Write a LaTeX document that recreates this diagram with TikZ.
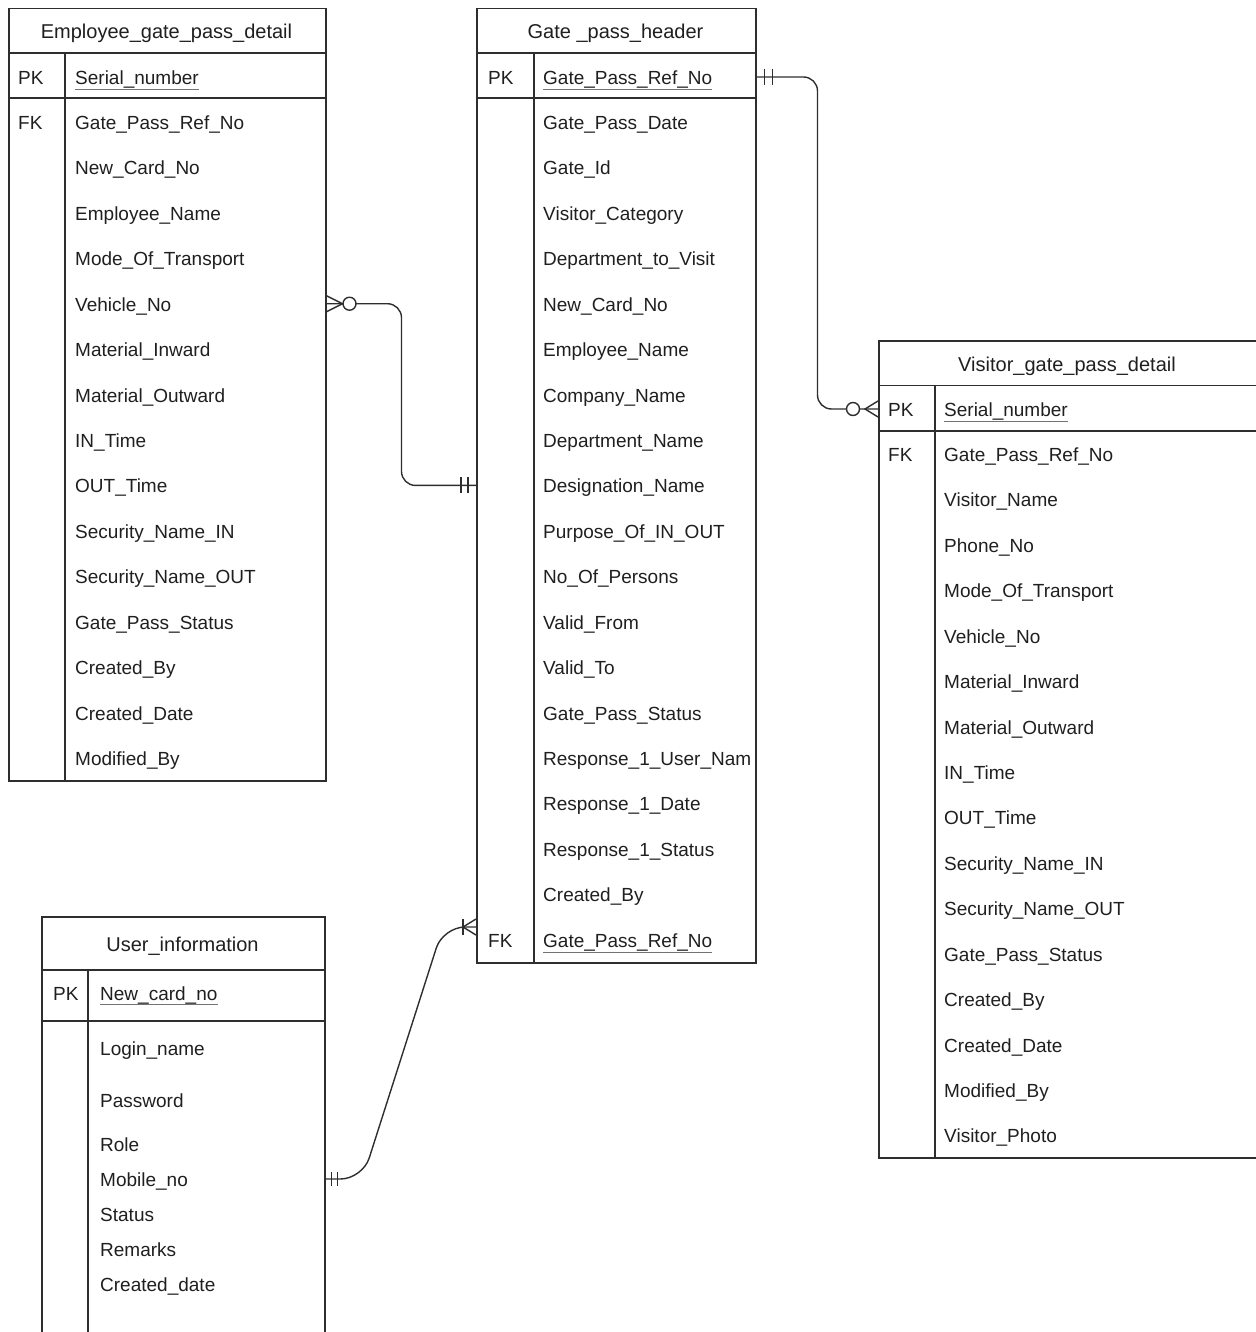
\documentclass[tikz,border=0pt]{standalone}
\usepackage{fontspec}
\setmainfont{Liberation Sans}
\begin{document}
\begin{tikzpicture}[x=1pt,y=-1pt,
  tbl/.style={draw=black!82, line width=1.5pt, inner sep=0pt, anchor=north west},
  ln/.style={draw=black!82, line width=1.5pt},
  txt/.style={inner sep=0pt, anchor=west, text height=15pt, text depth=0pt,
    font=\fontsize{19}{22}\selectfont, text=black!88},
  ttl/.style={inner sep=0pt, anchor=center, text height=15pt, text depth=0pt,
    font=\fontsize{20}{22}\selectfont, text=black!88},
  ul/.style={draw=black!55, line width=0.9pt},
  rel/.style={draw=black!82, line width=1.4pt, rounded corners=14pt},
  tick/.style={draw=black!82, line width=1.4pt},
  circ/.style={draw=black!82, line width=1.4pt, fill=white}]
\useasboundingbox (0,0) rectangle (1255,1332);

% ---------------- Employee_gate_pass_detail ----------------
\node[tbl, minimum width=317pt, minimum height=772pt] (emp) at (8,8) {};
\draw[ln] (emp.west |- 0,53) -- (emp.east |- 0,53);
\draw[ln] (emp.west |- 0,98) -- (emp.east |- 0,98);
\draw[ln] (65,53) -- (emp.south -| 65,0);
\node[ttl] (emp-t) at (166.5,31.5) {Employee\_gate\_pass\_detail};
\node[txt] (emp-pkl) at (18,77) {PK};
\node[txt] (emp-pk) at (75,77) {Serial\_number};
\draw[ul] ([yshift=-4.5pt]emp-pk.base west) -- ([yshift=-4.5pt]emp-pk.base east);
\node[txt] (emp-fkl) at (18,122) {FK};
\foreach \t [count=\i from 0] in {Gate\_Pass\_Ref\_No, New\_Card\_No, Employee\_Name,
  Mode\_Of\_Transport, Vehicle\_No, Material\_Inward, Material\_Outward, IN\_Time,
  OUT\_Time, Security\_Name\_IN, Security\_Name\_OUT, Gate\_Pass\_Status,
  Created\_By, Created\_Date, Modified\_By}
  \node[txt] (emp-r\i) at (75,122+45.43*\i) {\t};

% ---------------- Gate _pass_header ----------------
\node[tbl, minimum width=279pt, minimum height=954pt] (gph) at (476,8) {};
\draw[ln] (gph.west |- 0,53) -- (gph.east |- 0,53);
\draw[ln] (gph.west |- 0,98) -- (gph.east |- 0,98);
\draw[ln] (534,53) -- (gph.south -| 534,0);
\node[ttl] (gph-t) at (615.5,31.5) {Gate \_pass\_header};
\node[txt] (gph-pkl) at (488,77) {PK};
\node[txt] (gph-pk) at (543,77) {Gate\_Pass\_Ref\_No};
\draw[ul] ([yshift=-4.5pt]gph-pk.base west) -- ([yshift=-4.5pt]gph-pk.base east);
\foreach \t [count=\i from 0] in {Gate\_Pass\_Date, Gate\_Id, Visitor\_Category,
  Department\_to\_Visit, New\_Card\_No, Employee\_Name, Company\_Name,
  Department\_Name, Designation\_Name, Purpose\_Of\_IN\_OUT, No\_Of\_Persons,
  Valid\_From, Valid\_To, Gate\_Pass\_Status, Response\_1\_User\_Nam,
  Response\_1\_Date, Response\_1\_Status, Created\_By}
  \node[txt] (gph-r\i) at (543,122+45.43*\i) {\t};
\node[txt] (gph-fkl) at (488,940) {FK};
\node[txt] (gph-fk) at (543,940) {Gate\_Pass\_Ref\_No};
\draw[ul] ([yshift=-4.5pt]gph-fk.base west) -- ([yshift=-4.5pt]gph-fk.base east);

% ---------------- Visitor_gate_pass_detail ----------------
\node[tbl, minimum width=380pt, minimum height=817pt] (vis) at (878,340) {};
\draw[ln] (vis.west |- 0,385.5) -- (vis.east |- 0,385.5);
\draw[ln] (vis.west |- 0,431) -- (vis.east |- 0,431);
\draw[ln] (935,385.5) -- (vis.south -| 935,0);
\node[ttl] (vis-t) at (1067,363.5) {Visitor\_gate\_pass\_detail};
\node[txt] (vis-pkl) at (888,409) {PK};
\node[txt] (vis-pk) at (944,409) {Serial\_number};
\draw[ul] ([yshift=-4.5pt]vis-pk.base west) -- ([yshift=-4.5pt]vis-pk.base east);
\node[txt] (vis-fkl) at (888,454) {FK};
\foreach \t [count=\i from 0] in {Gate\_Pass\_Ref\_No, Visitor\_Name, Phone\_No,
  Mode\_Of\_Transport, Vehicle\_No, Material\_Inward, Material\_Outward, IN\_Time,
  OUT\_Time, Security\_Name\_IN, Security\_Name\_OUT, Gate\_Pass\_Status,
  Created\_By, Created\_Date, Modified\_By, Visitor\_Photo}
  \node[txt] (vis-r\i) at (944,454+45.43*\i) {\t};

% ---------------- User_information ----------------
\node[tbl, minimum width=283pt, minimum height=440pt] (usr) at (41,916) {};
\draw[ln] (usr.west |- 0,970) -- (usr.east |- 0,970);
\draw[ln] (usr.west |- 0,1021) -- (usr.east |- 0,1021);
\draw[ln] (88,970) -- (usr.south -| 88,0);
\node[ttl] (usr-t) at (182.5,943.5) {User\_information};
\node[txt] (usr-pkl) at (53,992.5) {PK};
\node[txt] (usr-pk) at (100,992.5) {New\_card\_no};
\draw[ul] ([yshift=-4.5pt]usr-pk.base west) -- ([yshift=-4.5pt]usr-pk.base east);
\node[txt] (usr-r0) at (100,1048) {Login\_name};
\node[txt] (usr-r1) at (100,1100) {Password};
\node[txt] (usr-r2) at (100,1144) {Role};
\node[txt] (usr-r3) at (100,1179) {Mobile\_no};
\node[txt] (usr-r4) at (100,1214) {Status};
\node[txt] (usr-r5) at (100,1249) {Remarks};
\node[txt] (usr-r6) at (100,1284) {Created\_date};

% ---------------- Connectors ----------------
% Employee (zero or many) -- Gate header (mandatory one)
\coordinate (c1a) at (emp.east |- emp-r4.west);
\coordinate (c1b) at (gph.west |- gph-r8.west);
\draw[rel] (c1a) -- ++(75,0) |- (c1b);
\draw[tick] (c1a) ++(0,-8) -- ++(16,8) -- ++(-16,8);
\draw[circ] (c1a) ++(23,0) circle[radius=6.5];
\draw[tick] (c1b) ++(-8,-8) -- ++(0,16);
\draw[tick] (c1b) ++(-15,-8) -- ++(0,16);

% Gate header PK (mandatory one) -- Visitor (zero or many)
\coordinate (c2a) at (gph.east |- gph-pk.west);
\coordinate (c2b) at (vis.west |- vis-pk.west);
\draw[rel] (c2a) -- ++(61,0) |- (c2b);
\draw[tick] (c2a) ++(8,-8) -- ++(0,16);
\draw[tick] (c2a) ++(16,-8) -- ++(0,16);
\draw[tick] (c2b) ++(0,-8) -- ++(-13,8) -- ++(13,8);
\draw[circ] (c2b) ++(-25,0) circle[radius=6.5];

% User_information (mandatory one) -- Gate header FK (one or many)
\coordinate (c3a) at (usr.east |- usr-r3.west);
\path (gph.west |- gph-fk.west) ++(0,-13) coordinate (c3b);
\draw[rel, rounded corners=22pt] (c3a) -- ++(37,0) -- ([xshift=-33pt]c3b) -- (c3b);
\draw[tick] (c3a) ++(6,-7) -- ++(0,14);
\draw[tick] (c3a) ++(12,-7) -- ++(0,14);
\draw[tick] (c3b) ++(0,-8) -- ++(-13,8) -- ++(13,8);
\draw[tick] (c3b) ++(-13,-8) -- ++(0,16);
\end{tikzpicture}
\end{document}
